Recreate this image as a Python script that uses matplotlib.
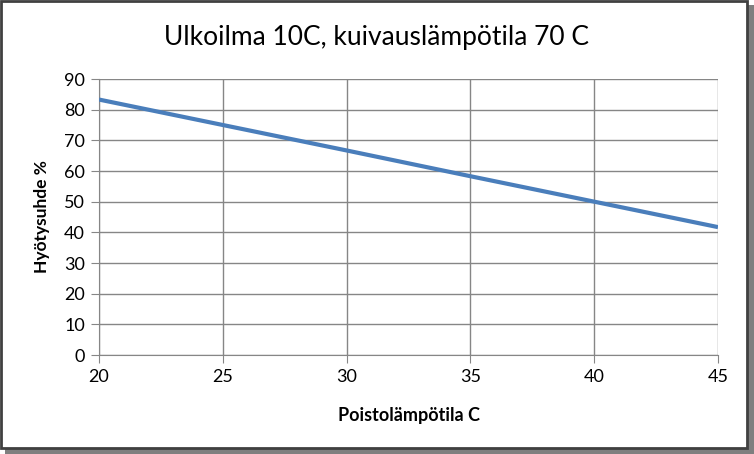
import matplotlib
matplotlib.use("Agg")
import matplotlib.pyplot as plt
from matplotlib.patches import Rectangle

# data
poisto_temp = [20, 25, 30, 35, 40, 45]
hyotysuhde = [83.3, 75.0, 66.7, 58.3, 50.0, 41.7]
x_ticks = [20, 25, 30, 35, 40, 45]
y_ticks = [0, 10, 20, 30, 40, 50, 60, 70, 80, 90]

plt.rcParams["font.family"] = ["Lato", "DejaVu Sans"]

fig = plt.figure(figsize=(7.54, 4.54), dpi=100, facecolor="white")

# outer frame with a soft shadow, Excel style
fig.patches.append(Rectangle((5 / 754, 0), 749 / 754, 449 / 454, transform=fig.transFigure,
                             facecolor="#7f7f7f", edgecolor="none", zorder=-2))
fig.patches.append(Rectangle((1 / 754, 6 / 454), 746 / 754, 447 / 454, transform=fig.transFigure,
                             facecolor="white", edgecolor="#404040", linewidth=2, zorder=-1))

ax = fig.add_axes([99 / 754, 99 / 454, 619 / 754, 276 / 454])
ax.set_zorder(2)
ax.set_facecolor("none")
ax.plot(poisto_temp, hyotysuhde, color="#4a7ebb", linewidth=3, solid_capstyle="butt", zorder=3)

ax.set_xlim(20, 45)
ax.set_ylim(0, 90)
ax.set_xticks(x_ticks)
ax.set_yticks(y_ticks)
ax.grid(color="#868686", linewidth=1)
ax.set_axisbelow(True)
for side in ["top", "right"]:
    ax.spines[side].set_visible(False)
for side in ["left", "bottom"]:
    ax.spines[side].set_color("#868686")
ax.tick_params(axis="both", direction="out", length=6, color="#868686", labelsize=13, pad=4)

fig.text(376 / 754, 1 - 38 / 454, "Ulkoilma 10C, kuivauslämpötila 70 C", fontsize=19,
         ha="center", va="center")
ax.set_xlabel("Poistolämpötila C", fontsize=13, fontweight="bold", labelpad=16)
ax.set_ylabel("Hyötysuhde %", fontsize=12.5, fontweight="bold", labelpad=10)

fig.savefig("out.png", dpi=100, facecolor="white")
